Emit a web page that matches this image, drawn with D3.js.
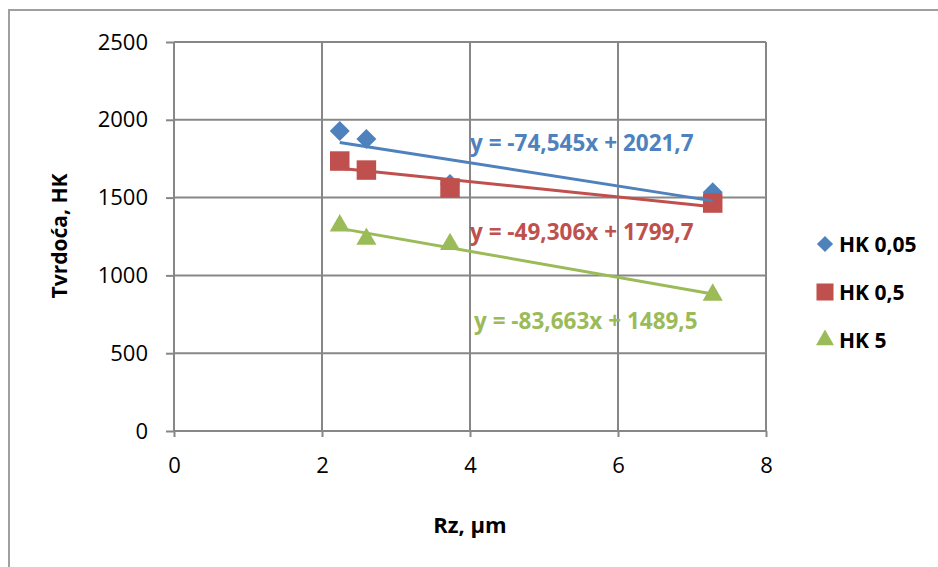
<!DOCTYPE html>
<meta charset="utf-8">
<style>
body { margin: 0; background: #fff; }
text { font-family: "Open Sans", "Liberation Sans", sans-serif; }
.grid line { stroke: #878787; stroke-width: 2px; }
.axis path, .axis line { stroke: #878787; stroke-width: 2px; }
.axis text { font-size: 22px; fill: #000; }
</style>
<svg width="938" height="567"></svg>
<script src="https://d3js.org/d3.v7.min.js"></script>
<script>
// data
var rz = [2.24, 2.6, 3.73, 7.28];
var hk005 = [1928, 1877, 1587, 1535];
var hk05 = [1735, 1677, 1562, 1465];
var hk5 = [1320, 1234, 1200, 875];
var seriesNames = ["HK 0,05", "HK 0,5", "HK 5"];
var colors = ["#4f81bd", "#c0504d", "#9bbb59"];
var slopes = [-74.545, -49.306, -83.663];
var intercepts = [2021.7, 1799.7, 1489.5];
var eqLabels = ["y = -74,545x + 2021,7", "y = -49,306x + 1799,7", "y = -83,663x + 1489,5"];
var xTicks = [0, 2, 4, 6, 8];
var yTicks = [0, 500, 1000, 1500, 2000, 2500];

var svg = d3.select("svg");

// outer frame
svg.append("path")
    .attr("d", "M9,567 V10 H938")
    .attr("fill", "none")
    .attr("stroke", "#a0a0a0")
    .attr("stroke-width", 2);

var x = d3.scaleLinear().domain([0, 8]).range([174, 766]);
var y = d3.scaleLinear().domain([0, 2500]).range([431, 42]);

// grid
var grid = svg.append("g").attr("class", "grid");
grid.selectAll(".v").data(xTicks.slice(1)).enter().append("line")
    .attr("x1", function(d) { return x(d); }).attr("x2", function(d) { return x(d); })
    .attr("y1", y(0)).attr("y2", y(2500));
grid.selectAll(".h").data(yTicks.slice(1)).enter().append("line")
    .attr("x1", x(0)).attr("x2", x(8))
    .attr("y1", function(d) { return y(d); }).attr("y2", function(d) { return y(d); });

// axes
svg.append("g").attr("class", "axis")
    .attr("transform", "translate(0," + y(0) + ")")
    .call(d3.axisBottom(x).tickValues(xTicks).tickFormat(d3.format("d")).tickSize(6).tickPadding(20).tickSizeOuter(0))
    .call(function(g) { g.select(".domain").attr("d", "M" + x(0) + ",0H" + x(8)); });

svg.append("g").attr("class", "axis")
    .attr("transform", "translate(" + x(0) + ",0)")
    .call(d3.axisLeft(y).tickValues(yTicks).tickFormat(d3.format("d")).tickSize(8).tickPadding(18).tickSizeOuter(0))
    .call(function(g) { g.select(".domain").attr("d", "M0," + y(0) + "V" + y(2500)); });

// axis titles
svg.append("text")
    .attr("transform", "translate(67,236) rotate(-90)")
    .attr("text-anchor", "middle")
    .style("font-size", "21px").style("font-weight", "bold")
    .text("Tvrdoća, HK");
svg.append("text")
    .attr("x", 470).attr("y", 533)
    .attr("text-anchor", "middle")
    .style("font-size", "22px").style("font-weight", "bold")
    .text("Rz, µm");

var allSeries = [hk005, hk05, hk5];
var symbols = [d3.symbolSquare, d3.symbolSquare, d3.symbolTriangle];
var rotations = [45, 0, 0];
var symSizes = [200, 380, 175];
var legendSizes = [130, 290, 140];

// markers first, trendlines on top
allSeries.forEach(function(vals, i) {
  svg.append("g").selectAll("path").data(vals).enter().append("path")
      .attr("transform", function(d, j) { return "translate(" + x(rz[j]) + "," + y(d) + ") rotate(" + rotations[i] + ")"; })
      .attr("d", d3.symbol().type(symbols[i]).size(symSizes[i]))
      .attr("fill", colors[i]);
});

var xMin = d3.min(rz), xMax = d3.max(rz);
allSeries.forEach(function(vals, i) {
  svg.append("line")
      .attr("x1", x(xMin)).attr("y1", y(slopes[i] * xMin + intercepts[i]))
      .attr("x2", x(xMax)).attr("y2", y(slopes[i] * xMax + intercepts[i]))
      .attr("stroke", colors[i]).attr("stroke-width", 3);
});

// trendline equations
var eqPos = [[470, 151], [470, 240], [474, 329]];
eqLabels.forEach(function(t, i) {
  svg.append("text")
      .attr("x", eqPos[i][0]).attr("y", eqPos[i][1])
      .attr("fill", colors[i])
      .style("font-size", "22.5px").style("font-weight", "bold")
      .text(t);
});

// legend
var legend = svg.append("g");
seriesNames.forEach(function(n, i) {
  var ly = 244 + i * 48;
  legend.append("path")
      .attr("transform", "translate(825," + ly + ") rotate(" + rotations[i] + ")")
      .attr("d", d3.symbol().type(symbols[i]).size(legendSizes[i]))
      .attr("fill", colors[i]);
  legend.append("text")
      .attr("x", 839).attr("y", ly + 8)
      .style("font-size", "21px").style("font-weight", "bold")
      .text(n);
});
</script>
